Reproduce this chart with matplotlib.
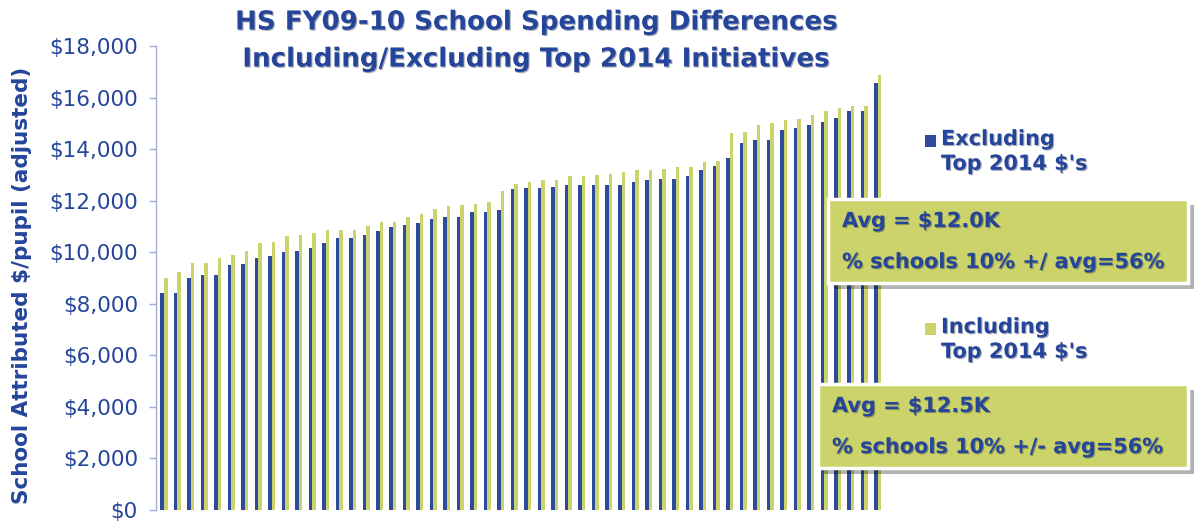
import numpy as np
import matplotlib
matplotlib.use("Agg")
import matplotlib.pyplot as plt
import matplotlib.patheffects as pe
from matplotlib.patches import Rectangle
from matplotlib.ticker import FuncFormatter

# Per-pupil spending by high school, sorted ascending ($)
excluding = [8410, 8410, 9000, 9100, 9100, 9500, 9560, 9770, 9860, 10010,
             10060, 10170, 10360, 10570, 10570, 10670, 10810, 10970, 11070, 11120,
             11270, 11380, 11380, 11570, 11570, 11620, 12440, 12480, 12480, 12530,
             12590, 12590, 12590, 12590, 12590, 12740, 12790, 12840, 12840, 12950,
             13190, 13350, 13640, 14220, 14360, 14360, 14760, 14810, 14920, 15060,
             15210, 15460, 15460, 16580]
including = [9000, 9220, 9600, 9600, 9770, 9910, 10050, 10360, 10410, 10620,
             10670, 10760, 10860, 10860, 10860, 11020, 11170, 11170, 11380, 11470,
             11670, 11780, 11830, 11880, 11930, 12390, 12640, 12740, 12790, 12790,
             12950, 12950, 13000, 13050, 13100, 13190, 13190, 13240, 13300, 13300,
             13500, 13550, 14610, 14660, 14950, 15010, 15110, 15160, 15310, 15460,
             15610, 15660, 15660, 16860]
series_labels = ["Excluding\nTop 2014 $'s", "Including\nTop 2014 $'s"]
box_lines_ex = ["Avg = $12.0K", "% schools 10% +/ avg=56%"]
box_lines_in = ["Avg = $12.5K", "% schools 10% +/- avg=56%"]
title_text = "HS FY09-10 School Spending Differences\nIncluding/Excluding Top 2014 Initiatives"
ylabel_text = "School Attributed $/pupil (adjusted)"
yticks = list(range(0, 18001, 2000))

BLUE = "#2D4A9D"
GREEN = "#CBD36A"
TXT = "#24459A"
AXIS = "#A3ACD9"
FONT = "DejaVu Sans"

shadow = [pe.SimplePatchShadow(offset=(0.8, -0.8), shadow_rgbFace="#10183a", alpha=0.35), pe.Normal()]

fig = plt.figure(figsize=(11.98, 5.29), dpi=100)
ax = fig.add_axes([156 / 1198, 19 / 529, 730 / 1198, 464 / 529])

x = np.arange(len(excluding))
w = 0.26
ax.bar(x - w / 2, excluding, width=w, color=BLUE, linewidth=0)
ax.bar(x + w / 2, including, width=w, color=GREEN, linewidth=0)

ax.set_xlim(-0.594, 53.6)
ax.set_ylim(0, 18000)
ax.set_yticks(yticks)
ax.yaxis.set_major_formatter(FuncFormatter(lambda v, p: f"${int(v):,}"))
ax.tick_params(axis="y", direction="out", length=5, width=1, color=AXIS,
               labelcolor=TXT, labelsize=15.5, pad=8)
for lbl in ax.get_yticklabels():
    lbl.set_fontfamily(FONT)
ax.set_xticks([])
for s in ["top", "right", "bottom"]:
    ax.spines[s].set_visible(False)
ax.spines["left"].set_color(AXIS)
ax.spines["left"].set_linewidth(1)

fig.text(22 / 1198, 1 - 285 / 529, ylabel_text, rotation=90, ha="center", va="center",
         fontsize=15.5, fontweight="bold", color=TXT, family=FONT)

fig.text(537 / 1198, 1 - 41 / 529, title_text, ha="center", va="center",
         fontsize=18.8, fontweight="bold", color=TXT, family=FONT, linespacing=1.55,
         path_effects=shadow)

# Legend entries, one above each summary box
for (ly, col, lab) in [(141, BLUE, series_labels[0]), (329, GREEN, series_labels[1])]:
    fig.patches.append(Rectangle((925 / 1198, 1 - (ly + 6) / 529), 11 / 1198, 12 / 529,
                                 transform=fig.transFigure, facecolor=col, edgecolor="none"))
    fig.text(941 / 1198, 1 - (ly - 12) / 529, lab, ha="left", va="top", fontsize=15,
             fontweight="bold", color=TXT, family=FONT, linespacing=1.3,
             path_effects=shadow)

# Summary boxes
box_shadow = [pe.SimplePatchShadow(offset=(4, -4), shadow_rgbFace="#000000", alpha=0.3), pe.Normal()]
for (x0, y0, x1, y1, lines) in [(828, 199, 1188, 283, box_lines_ex),
                                (818, 384, 1188, 468, box_lines_in)]:
    fig.patches.append(Rectangle((x0 / 1198, 1 - y1 / 529), (x1 - x0) / 1198, (y1 - y0) / 529,
                                 transform=fig.transFigure, facecolor=GREEN, edgecolor="white",
                                 linewidth=2.5, path_effects=box_shadow, zorder=5))
    fig.text((x0 + 14) / 1198, 1 - (y0 + 22) / 529, lines[0], ha="left", va="center",
             fontsize=15, fontweight="bold", color=TXT, family=FONT, zorder=6,
             path_effects=shadow)
    fig.text((x0 + 14) / 1198, 1 - (y0 + 63) / 529, lines[1], ha="left", va="center",
             fontsize=15, fontweight="bold", color=TXT, family=FONT, zorder=6,
             path_effects=shadow)

fig.savefig("out.png", dpi=100, facecolor="white")
